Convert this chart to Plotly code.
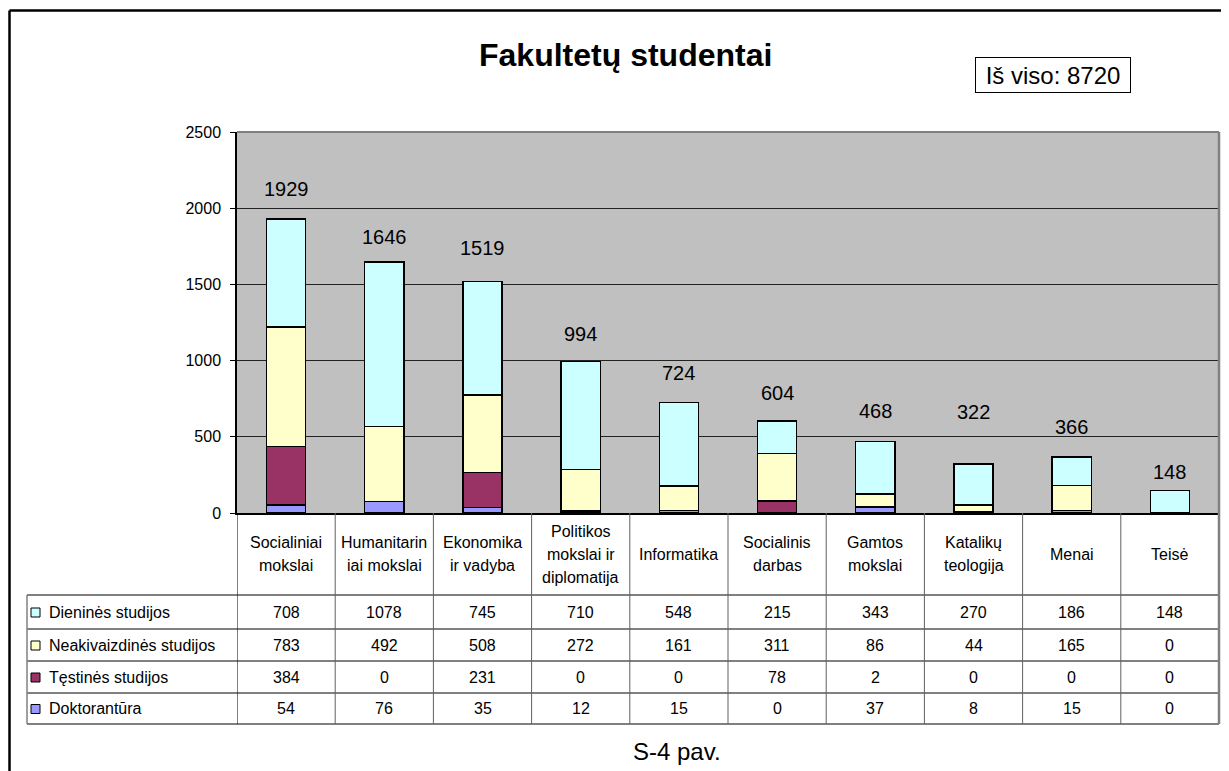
import plotly.graph_objects as go

# ---------------- data ----------------
categories = ["Socialiniai mokslai", "Humanitariniai mokslai", "Ekonomika ir vadyba",
              "Politikos mokslai ir diplomatija", "Informatika", "Socialinis darbas",
              "Gamtos mokslai", "Katalikų teologija", "Menai", "Teisė"]
category_labels = ["Socialiniai<br>mokslai", "Humanitarin<br>iai mokslai", "Ekonomika<br>ir vadyba",
                   "Politikos<br>mokslai ir<br>diplomatija", "Informatika", "Socialinis<br>darbas",
                   "Gamtos<br>mokslai", "Katalikų<br>teologija", "Menai", "Teisė"]
dienines = [708, 1078, 745, 710, 548, 215, 343, 270, 186, 148]
neakivaizdines = [783, 492, 508, 272, 161, 311, 86, 44, 165, 0]
testines = [384, 0, 231, 0, 0, 78, 2, 0, 0, 0]
doktorantura = [54, 76, 35, 12, 15, 0, 37, 8, 15, 0]
series_names = ["Dieninės studijos", "Neakivaizdinės studijos", "Tęstinės studijos", "Doktorantūra"]
total_all = 8720
title_text = "Fakultetų studentai"
caption_text = "S-4 pav."
y_ticks = [0, 500, 1000, 1500, 2000, 2500]

# ---------------- style ----------------
colors = {"Dieninės studijos": "#CCFFFF", "Neakivaizdinės studijos": "#FFFFCC",
          "Tęstinės studijos": "#993366", "Doktorantūra": "#9999FF"}
label_yshift = [32, 27, 36, 30, 32, 30, 33, 54, 32, 20]
FONT = "Liberation Sans, Arial, sans-serif"

SCREEN_W, SCREEN_H = 1229, 771
OFF = 8  # default page body margin
W, H = SCREEN_W - 2 * OFF, SCREEN_H - OFF
L, R, T, B = 237, 1219, 132, 513  # plot area in screen pixels


def px_x(x):
    return (x - L) / (R - L)


def px_y(y):
    return (B - y) / (B - T)


values = {series_names[0]: dienines, series_names[1]: neakivaizdines,
          series_names[2]: testines, series_names[3]: doktorantura}
totals = [sum(v) for v in zip(dienines, neakivaizdines, testines, doktorantura)]

fig = go.Figure()
for name in reversed(series_names):
    fig.add_trace(go.Bar(x=categories, y=values[name], name=name, width=0.4,
                         marker=dict(color=colors[name], line=dict(color="black", width=1.5)),
                         showlegend=False))

annotations = []
shapes = []


def txt(x, y, text, size, xref="paper", yref="paper", xanchor="center", **kw):
    d = dict(x=x, y=y, xref=xref, yref=yref, text=text, showarrow=False,
             xanchor=xanchor, yanchor="middle",
             font=dict(size=size, color="black", family=FONT))
    d.update(kw)
    annotations.append(d)


# totals above bars
for i, (c, t) in enumerate(zip(categories, totals)):
    txt(c, t, str(t), 20, xref="x", yref="y", yshift=label_yshift[i] - 2)

# title, total box, caption
txt(px_x(625), px_y(55), f"<b>{title_text}</b>", 32)
txt(px_x(1053), px_y(75), f"Iš viso: {total_all}", 24,
    bordercolor="black", borderwidth=1, borderpad=2, width=150, height=30, bgcolor="white")
txt(px_x(677), px_y(751), caption_text, 24)

# ---------------- data table ----------------
row_lines = [595, 629, 661, 693, 724]
row_centers = [(row_lines[k] + row_lines[k + 1]) / 2 for k in range(4)]
header_center = (B + row_lines[0]) / 2
line_gap = 23

for c, lab in zip(categories, category_labels):
    parts = lab.split("<br>")
    n = len(parts)
    for j, p in enumerate(parts):
        yc = header_center + (j - (n - 1) / 2) * line_gap
        txt(c, px_y(yc), p, 16, xref="x")

for r, name in enumerate(series_names):
    yc = row_centers[r]
    for c, v in zip(categories, values[name]):
        txt(c, px_y(yc), str(v), 16, xref="x")
    txt(px_x(47), px_y(yc), name, 16, xanchor="left")
    shapes.append(dict(type="rect", xref="paper", yref="paper", x0=px_x(31), x1=px_x(40),
                       y0=px_y(yc + 5), y1=px_y(yc - 4), fillcolor=colors[name],
                       line=dict(color="black", width=1), layer="above"))

for yl in row_lines:
    shapes.append(dict(type="line", xref="paper", yref="paper", x0=px_x(27), x1=px_x(R),
                       y0=px_y(yl), y1=px_y(yl), line=dict(color="black", width=1)))
shapes.append(dict(type="line", xref="paper", yref="paper", x0=px_x(27), x1=px_x(27),
                   y0=px_y(row_lines[0]), y1=px_y(row_lines[-1]), line=dict(color="#808080", width=1.5)))
for k in range(len(categories) + 1):
    xv = k - 0.5
    col = "black" if k == 0 else "#606060"
    shapes.append(dict(type="line", xref="x", yref="paper", x0=xv, x1=xv,
                       y0=px_y(B), y1=px_y(row_lines[-1]), line=dict(color=col, width=1)))

# plot-area border (grey top/right)
shapes.append(dict(type="line", xref="paper", yref="paper", x0=0, x1=1, y0=1, y1=1,
                   line=dict(color="#808080", width=2), layer="above"))
shapes.append(dict(type="line", xref="paper", yref="paper", x0=1, x1=1, y0=px_y(row_lines[-1]), y1=1,
                   line=dict(color="#808080", width=2.5), layer="above"))

# outer chart border (top and left visible)
shapes.append(dict(type="line", xref="paper", yref="paper", x0=px_x(9.5), x1=px_x(1260),
                   y0=px_y(10.5), y1=px_y(10.5), line=dict(color="black", width=2.5)))
shapes.append(dict(type="line", xref="paper", yref="paper", x0=px_x(9.5), x1=px_x(9.5),
                   y0=px_y(10.5), y1=px_y(800), line=dict(color="black", width=2.5)))

fig.update_layout(
    width=W, height=H,
    margin=dict(l=L - OFF, r=(W + OFF) - R, t=T - OFF, b=(H + OFF) - B, pad=0),
    barmode="stack",
    paper_bgcolor="white", plot_bgcolor="#C0C0C0",
    font=dict(family=FONT, color="black"),
    annotations=annotations, shapes=shapes,
    xaxis=dict(type="category", range=[-0.5, len(categories) - 0.5], showticklabels=False,
               showgrid=False, showline=True, linecolor="black", linewidth=2, ticks="", zeroline=False),
    yaxis=dict(range=[0, 2500], tickvals=y_ticks, showgrid=True, gridcolor="#222222", gridwidth=1,
               showline=True, linecolor="black", linewidth=1.5, ticks="outside", ticklen=5,
               tickcolor="black", tickfont=dict(size=16, family=FONT, color="black"),
               zeroline=False, ticklabelstandoff=6),
)

fig.write_html("out.html")
